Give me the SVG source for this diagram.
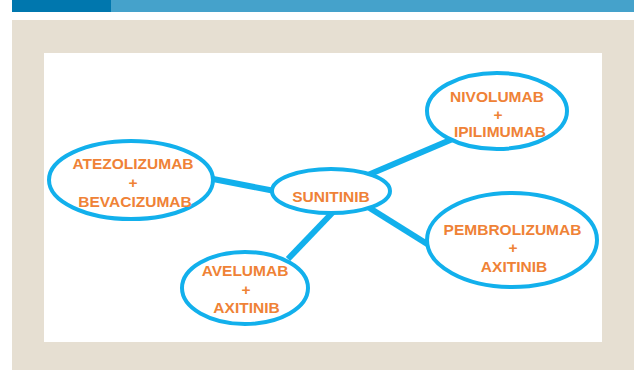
<svg xmlns="http://www.w3.org/2000/svg" width="634" height="370" viewBox="0 0 634 370">
<style>
.node ellipse{fill:#fff;stroke:#12b0ec;stroke-width:4}
.conn line{stroke:#12b0ec;stroke-width:6;stroke-linecap:butt}
text{font-family:"Liberation Sans",Arial,sans-serif;font-weight:bold;font-size:15.5px;fill:#ef8236;text-anchor:middle}
</style>
<rect x="12" y="0" width="99" height="12" fill="#0077ae"/>
<rect x="111" y="0" width="523" height="12" fill="#45a2cb"/>
<rect x="12" y="20" width="622" height="350" fill="#e6dfd2"/>
<rect x="44" y="53" width="558" height="289" fill="#fff"/>
<g id="connectors" class="conn">
<line x1="208" y1="178" x2="280" y2="192"/>
<line x1="368" y1="175" x2="455" y2="138"/>
<line x1="368" y1="207" x2="432" y2="247"/>
<line x1="335" y1="210" x2="288" y2="259"/>
</g>
<g id="atezolizumab" class="node">
<ellipse cx="131" cy="180" rx="82" ry="39"/>
<text x="133" y="169">ATEZOLIZUMAB</text>
<text x="133" y="188">+</text>
<text x="135" y="207">BEVACIZUMAB</text>
</g>
<g id="sunitinib" class="node">
<ellipse cx="331" cy="191" rx="59" ry="22"/>
<text x="331" y="201.5">SUNITINIB</text>
</g>
<g id="nivolumab" class="node">
<ellipse cx="497" cy="111" rx="70" ry="38"/>
<text x="497" y="102">NIVOLUMAB</text>
<text x="498" y="119.5">+</text>
<text x="500" y="137">IPILIMUMAB</text>
</g>
<g id="pembrolizumab" class="node">
<ellipse cx="512" cy="240" rx="85" ry="47"/>
<text x="512.5" y="235">PEMBROLIZUMAB</text>
<text x="513" y="253">+</text>
<text x="514" y="271.5">AXITINIB</text>
</g>
<g id="avelumab" class="node">
<ellipse cx="245" cy="288" rx="63" ry="36"/>
<text x="245" y="276">AVELUMAB</text>
<text x="246" y="294.5">+</text>
<text x="246.5" y="312.5">AXITINIB</text>
</g>
</svg>
